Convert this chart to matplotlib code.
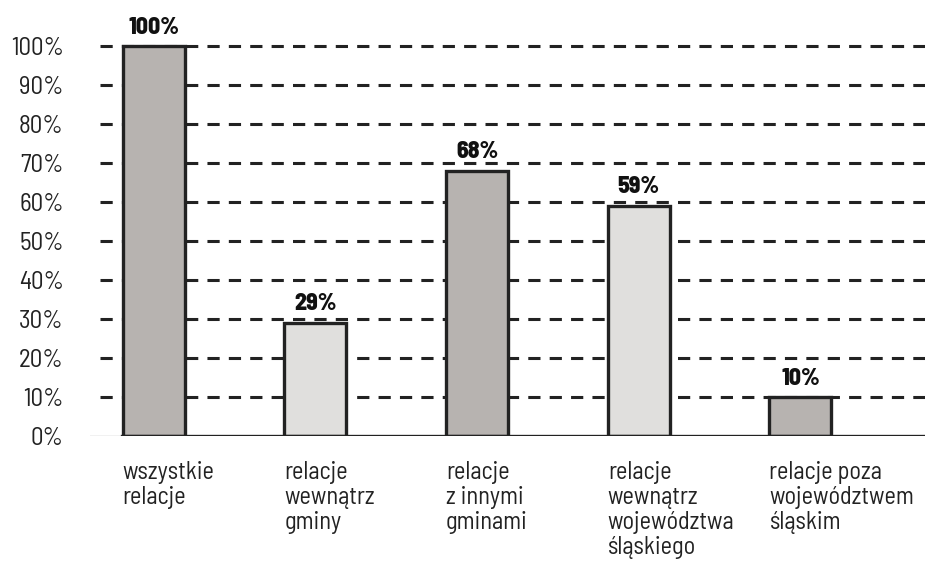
import matplotlib.pyplot as plt

categories = ["wszystkie\nrelacje",
              "relacje\nwewnątrz\ngminy",
              "relacje\nz innymi\ngminami",
              "relacje\nwewnątrz\nwojewództwa\nśląskiego",
              "relacje poza\nwojewództwem\nśląskim"]
values = [100, 29, 68, 59, 10]
value_labels = ["100%", "29%", "68%", "59%", "10%"]
bar_colors = ["#b7b3b0", "#e0dfdd", "#b7b3b0", "#e0dfdd", "#b7b3b0"]
yticks = [0, 10, 20, 30, 40, 50, 60, 70, 80, 90, 100]

plt.rcParams['font.family'] = ['Barlow Semi Condensed', 'DejaVu Sans']

dark = "#222222"
fig = plt.figure(figsize=(9.25, 5.63), dpi=100)
ax = fig.add_axes([90 / 925, 127 / 563, 835 / 925, 429 / 563])

x = list(range(len(values)))
w = 0.383
ax.set_xlim(-0.393, 4.77)
ax.set_ylim(0, 110)

# dashed grid behind the bars
for y in yticks[1:]:
    ax.axhline(y, xmin=10 / 835, xmax=1, color=dark, lw=2.2,
               dashes=(4, 3), zorder=1)

ax.bar(x, values, width=w, color=bar_colors, edgecolor=dark,
       linewidth=2.4, zorder=3)

# baseline
ax.axhline(0, xmin=0, xmax=32 / 835, color="#bbbbbb", lw=1, zorder=2)
ax.axhline(0, xmin=32 / 835, xmax=1, color=dark, lw=2.4, zorder=4)

for xi, v, lab in zip(x, values, value_labels):
    ax.text(xi, v + 1.9, lab, ha="center", va="bottom", fontsize=17,
            fontweight="heavy", color="#111111")

for xi, cat in zip(x, categories):
    ax.text(xi - w / 2, -6.4, cat, ha="left", va="top", fontsize=17.5,
            color="#222222", linespacing=1.12)

ax.set_yticks(yticks)
ax.set_yticklabels([f"{t}%" for t in yticks], fontsize=18, color="#222222")
ax.tick_params(axis="y", length=0, pad=19)
ax.set_xticks([])
for s in ax.spines.values():
    s.set_visible(False)

plt.savefig("out.png", dpi=100)
